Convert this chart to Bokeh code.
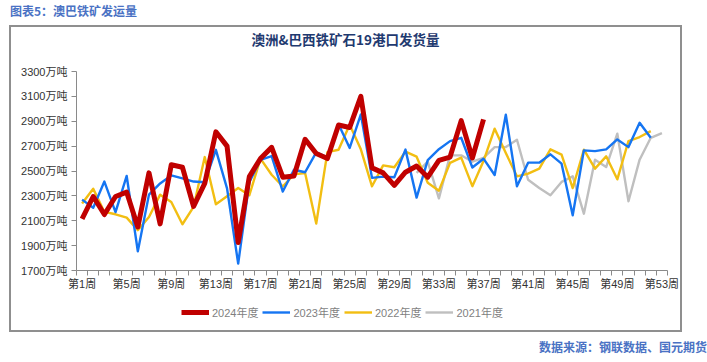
from bokeh.plotting import figure
from bokeh.layouts import column
from bokeh.models import Range1d, FixedTicker, Legend, LegendItem, Div
from bokeh.embed import file_html
from bokeh.resources import INLINE

# ---------------- data ----------------
weeks = list(range(1, 54))
week_labels = [f"第{w}周" for w in weeks]
label_weeks = weeks[::4]
y_ticks = list(range(1700, 3301, 200))
y_tick_labels = [f"{v}万吨" for v in y_ticks]

series_names = ["2024年度", "2023年度", "2022年度", "2021年度"]
series_colors = ["#C00000", "#1575F2", "#F2BE12", "#BFBFBF"]
series_widths = [5, 2.4, 2.4, 2.4]

weeks_2024 = weeks[:37]
vals_2024 = [2115, 2295, 2150, 2295, 2330, 2050, 2485, 2075, 2550, 2530,
             2215, 2400, 2815, 2700, 1925, 2455, 2600, 2690, 2450, 2460,
             2755, 2640, 2600, 2870, 2850, 3100, 2525, 2485, 2385, 2490,
             2540, 2450, 2585, 2612, 2905, 2605, 2915]

weeks_2023 = weeks[:52]
vals_2023 = [2270, 2205, 2415, 2170, 2460, 1855, 2310, 2400, 2465, 2440,
             2415, 2410, 2670, 2360, 1755, 2410, 2590, 2620, 2335, 2510,
             2490, 2650, 2610, 2875, 2685, 2955, 2445, 2455, 2450, 2672,
             2286, 2588, 2675, 2740, 2767, 2528, 2599, 2468, 2952, 2377,
             2567, 2567, 2634, 2559, 2144, 2666, 2660, 2674, 2754, 2692,
             2888, 2767]

weeks_2022 = weeks[:52]
vals_2022 = [2238, 2358, 2171, 2152, 2125, 2024, 2130, 2310, 2251, 2072,
             2211, 2612, 2232, 2297, 2363, 2305, 2599, 2470, 2375, 2473,
             2484, 2077, 2652, 2671, 2872, 2674, 2377, 2545, 2530, 2656,
             2615, 2405, 2342, 2565, 2608, 2378, 2580, 2840, 2644, 2457,
             2479, 2519, 2674, 2631, 2363, 2671, 2519, 2618, 2433, 2741,
             2773, 2821]

weeks_2021 = weeks[30:]
vals_2021 = [2485, 2575, 2280, 2626, 2626, 2575, 2605, 2692, 2692, 2751,
             2430, 2363, 2305, 2412, 2457, 2157, 2591, 2532, 2800, 2257,
             2591, 2767, 2805]

series_x = [weeks_2024, weeks_2023, weeks_2022, weeks_2021]
series_y = [vals_2024, vals_2023, vals_2022, vals_2021]

AX = "#8a8a8a"
TICK_FONT = "Liberation Sans, Noto Sans CJK SC"
INNER_W = 669

# ---------------- main chart ----------------
p = figure(width=INNER_W, height=243, output_backend="svg", toolbar_location=None,
           x_range=Range1d(0.5, 53.5), y_range=Range1d(y_ticks[0], y_ticks[-1]),
           min_border_left=65, min_border_right=13, min_border_top=14,
           min_border_bottom=30)
p.grid.visible = False
p.outline_line_color = None

p.xaxis.ticker = FixedTicker(ticks=label_weeks,
                             minor_ticks=[w - 0.5 for w in weeks] + [weeks[-1] + 0.5])
p.xaxis.major_label_overrides = {w: week_labels[w - 1] for w in label_weeks}
p.xaxis.axis_line_color = AX
p.xaxis.major_tick_out = 0
p.xaxis.major_tick_in = 0
p.xaxis.minor_tick_out = 5
p.xaxis.minor_tick_in = 0
p.xaxis.minor_tick_line_color = AX
p.xaxis.major_label_standoff = 2
p.xaxis.major_label_text_font = TICK_FONT
p.xaxis.major_label_text_font_size = "11px"
p.xaxis.major_label_text_color = "#333333"

p.yaxis.ticker = FixedTicker(ticks=y_ticks)
p.yaxis.major_label_overrides = {v: l for v, l in zip(y_ticks, y_tick_labels)}
p.yaxis.axis_line_color = AX
p.yaxis.major_tick_line_color = AX
p.yaxis.major_tick_out = 5
p.yaxis.major_tick_in = 0
p.yaxis.minor_tick_line_color = None
p.yaxis.major_label_standoff = 4
p.yaxis.major_label_text_font = TICK_FONT
p.yaxis.major_label_text_font_size = "11px"
p.yaxis.major_label_text_color = "#333333"

# draw 2021 first so that 2024 ends on top
for xs, ys, c, w in reversed(list(zip(series_x, series_y, series_colors, series_widths))):
    p.line(xs, ys, line_color=c, line_width=w, line_join="round")

# ---------------- legend strip ----------------
# same series drawn again (out of this strip's view) only to carry the legend
lf = figure(width=INNER_W, height=30, output_backend="svg", toolbar_location=None,
            x_range=Range1d(0, 1), y_range=Range1d(0, 1),
            x_axis_location=None, y_axis_location=None,
            min_border=0, min_border_left=0, min_border_right=0,
            min_border_top=0, min_border_bottom=0)
lf.grid.visible = False
lf.outline_line_color = None
items = []
for name, xs, ys, c, w in zip(series_names, series_x, series_y, series_colors, series_widths):
    r = lf.line(xs, ys, line_color=c, line_width=w)
    items.append(LegendItem(label=name, renderers=[r]))
legend = Legend(items=items, location=(105, 10.3), orientation="horizontal",
                glyph_width=28, glyph_height=14, label_height=14,
                label_standoff=3, spacing=4, padding=0, margin=0,
                border_line_color=None, background_fill_alpha=0,
                label_text_font=TICK_FONT, label_text_font_size="11px",
                label_text_color="#7f7f7f")
lf.add_layout(legend)

# ---------------- titles ----------------
title_div = Div(text="澳洲&amp;巴西铁矿石19港口发货量", width=INNER_W, height=30, margin=0,
                styles={"font-family": "Noto Sans CJK SC", "font-weight": "bold",
                        "font-size": "13.5px", "color": "#1F3A70",
                        "text-align": "center", "line-height": "25px",
                        "box-sizing": "border-box"})

boxed = column(title_div, p, lf, spacing=0, margin=(0, 0, 0, 9),
               styles={"border": "2px solid #8f8f8f"})

top_div = Div(text="图表5：澳巴铁矿发运量", width=707, height=25, margin=0,
              styles={"font-family": "Noto Sans CJK SC", "font-weight": "bold",
                      "font-size": "12px", "color": "#4A72C4",
                      "padding-left": "10px", "line-height": "22px",
                      "box-sizing": "border-box"})
src_div = Div(text="数据来源：钢联数据、国元期货", width=707, height=30, margin=0,
              styles={"font-family": "Noto Sans CJK SC", "font-weight": "bold",
                      "font-size": "12px", "color": "#4A72C4",
                      "text-align": "right", "line-height": "30px",
                      "box-sizing": "border-box"})

layout = column(top_div, boxed, src_div, spacing=0)

open("out.html", "w").write(file_html(layout, INLINE))
